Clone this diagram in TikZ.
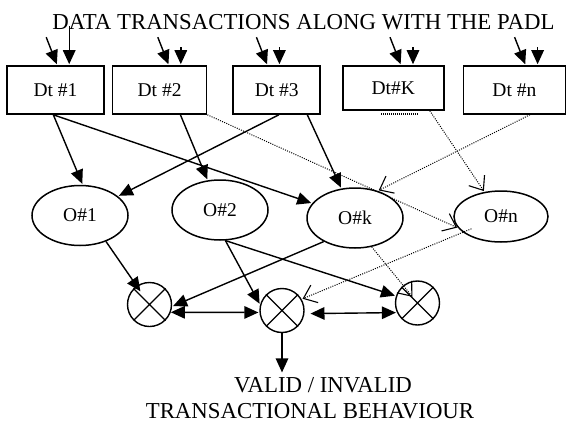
\documentclass[tikz,border=0pt]{standalone}
\usepackage{fontspec}
\setmainfont{Liberation Serif}
\usetikzlibrary{
        arrows.meta,
        calc,
        positioning,
        shapes.geometric
    }
\tikzset{>={Triangle[length=14pt,width=12.5pt]},shorten >=1pt,node distance=2cm}
\tikzset{
    dtbox/.style={draw,line width=1.6pt,minimum height=48pt,inner sep=0pt,font=\fontsize{19.5}{21}\selectfont},
    obj/.style={draw,ellipse,line width=1.5pt,minimum width=96pt,minimum height=60pt,inner sep=0pt,font=\fontsize{19.5}{21}\selectfont},
    mixer/.style={draw,circle,line width=1.4pt,minimum size=44pt,inner sep=0pt},
    link/.style={line width=1.4pt},
    weak/.style={line width=1pt,dash pattern=on 1pt off 1.3pt,-{Straight Barb[length=12pt,width=19pt,line width=1.1pt]}},
    big/.style={font=\fontsize{22.8}{26}\selectfont}
}

\begin{document}
\begin{tikzpicture}[x=1pt,y=-1pt]
                \useasboundingbox (0,0) rectangle (570,423);
                \node[big,anchor=base] (title) at (303.5,29) {DATA TRANSACTIONS ALONG WITH THE PADL};
                \node[dtbox,minimum width=97pt] (b1) at (55.5,90) {Dt \#1};
                \node[dtbox,minimum width=94pt] (b2) [right=7pt of b1] {Dt \#2};
                \node[dtbox,minimum width=87pt] (b3) [right=25pt of b2] {Dt \#3};
                \node[dtbox,minimum width=101pt,minimum height=44pt,yshift=2pt] (bK) [right=21pt of b3] {Dt\#K};
                \node[dtbox,minimum width=102pt,yshift=-2pt] (bn) [right=18pt of bK] {Dt \#n};
                \node[obj] (o1) at (80,215.5) {O\#1};
                \node[obj] (o2) at (220,210) {O\#2};
                \node[obj] (ok) at (355,218) {O\#k};
                \node[obj,minimum width=94pt,minimum height=51pt] (on) at (501,216.5) {O\#n};
                \node[mixer] (c1) at (149.5,304.5) {};
                \node[mixer] (c2) at (282,310.5) {};
                \node[mixer] (c3) at (417.5,303) {};
                \node[big,anchor=base] (res1) at (323,392) {VALID / INVALID};
                \node[big,anchor=base] (res2) at (310,418) {TRANSACTIONAL BEHAVIOUR};
                \foreach \c in {c1,c2,c3}
                    \draw[line width=1.2pt] (\c.north west) -- (\c.south east) (\c.north east) -- (\c.south west);
                \draw[line width=2pt,dash pattern=on 1pt off 1pt] ($(bK.south west)+(39,3)$) -- ++(38,0);
                % incoming data
                \foreach \b/\dx/\up in {b1/51/39,b2/57/18,b3/35/18,bK/59/18,bn/63/18} {
                    \coordinate (\b-s) at ($(\b.north west)+(\dx-11,-28)$);
                    \coordinate (\b-v) at ($(\b.north west)+(\dx+12,-\up)$);
                    \draw[->,link] (\b-s) -- ($(\b.north west)+(\dx,0)$);
                    \draw[->,link] (\b-v) -- (\b-v |- \b.north);
                }
                \path[->,link]
                    (b1.265)  edge  (o1.85)
                    (b1.265)  edge  (ok)
                    (b2.-50)  edge  (o2)
                    (b3.-85)  edge  (o1)
                    (b3.-39)  edge  (ok)
                    (o1.-45)  edge[shorten >=16pt]  (c1.center)
                    (o2.-80)  edge  (c2.165)
                    (o2.-80)  edge  (c3)
                    (ok.-143)  edge  (c1.-5)
                    (c1.-20)  edge[<->]  (c2.185)
                    (c2.-8)  edge[<->,shorten <=6pt]  (c3.205)
                    (c2.south)  edge  (c2 |- res1.north)
                    ;
                \path[weak]
                    (b2.south east)  edge  (on.195)
                    (bK.-32)  edge  (on)
                    (bn.-58)  edge  (ok.50)
                    (ok.-60)  edge[shorten >=8pt]  (c3.center)
                    (on.center)  edge[shorten <=32pt]  (c2.30)
                    ;
            \end{tikzpicture}
\end{document}
